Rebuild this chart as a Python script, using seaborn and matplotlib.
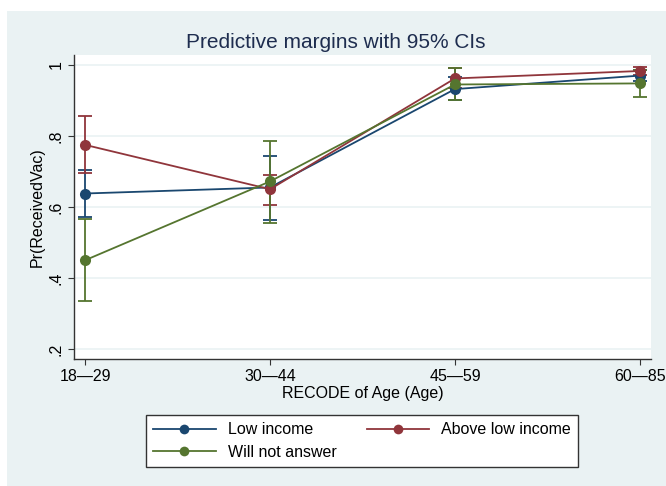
import matplotlib
matplotlib.use('Agg')
import matplotlib.pyplot as plt
from matplotlib.patches import Rectangle
import pandas as pd
import seaborn as sns

# margins
ages = ['18\u201429', '30\u201444', '45\u201459', '60\u201485']
groups = ['Low income', 'Above low income', 'Will not answer']
low_income = [0.638, 0.655, 0.932, 0.970]
low_income_lo = [0.573, 0.562, 0.900, 0.955]
low_income_hi = [0.703, 0.745, 0.965, 0.985]
above_low = [0.775, 0.650, 0.962, 0.983]
above_low_lo = [0.695, 0.607, 0.935, 0.972]
above_low_hi = [0.855, 0.690, 0.990, 0.994]
no_answer = [0.450, 0.672, 0.945, 0.948]
no_answer_lo = [0.335, 0.555, 0.900, 0.910]
no_answer_hi = [0.565, 0.787, 0.990, 0.985]
colors = ['#1a476f', '#90353b', '#55752f']

df = pd.DataFrame({
    'pos': list(range(4)) * 3,
    'margin': low_income + above_low + no_answer,
    'lo': low_income_lo + above_low_lo + no_answer_lo,
    'hi': low_income_hi + above_low_hi + no_answer_hi,
    'group': [g for g in groups for _ in ages],
})

plt.rcParams['font.family'] = ['Liberation Sans', 'DejaVu Sans']
fig = plt.figure(figsize=(6.66, 4.86), dpi=100)
fig.patch.set_facecolor('#eaf2f3')
# white strips on top and left edge
fig.patches.append(Rectangle((0, 1 - 11 / 486), 1, 11 / 486, transform=fig.transFigure,
                             facecolor='white', edgecolor='none', zorder=-10))
fig.patches.append(Rectangle((0, 0), 7 / 666, 1, transform=fig.transFigure,
                             facecolor='white', edgecolor='none', zorder=-10))
ax = fig.add_axes([74 / 666, 1 - 359 / 486, (651 - 74) / 666, (359 - 55) / 486])
ax.set_facecolor('white')

for g, c in zip(groups, colors):
    sub = df[df['group'] == g]
    ax.errorbar(sub['pos'], sub['margin'],
                yerr=[sub['margin'] - sub['lo'], sub['hi'] - sub['margin']],
                fmt='none', ecolor=c, elinewidth=1.3, capsize=5, capthick=1.3, zorder=2)

sns.lineplot(data=df, x='pos', y='margin', hue='group', palette=colors, marker='o',
             markersize=8, markeredgewidth=0, linewidth=1.3, ax=ax, legend=False, zorder=3)

ax.set_xlim(-0.0595, 3.0595)
ax.set_ylim(0.172, 1.028)
ax.set_xticks(range(4))
ax.set_xticklabels(ages, fontsize=11.5)
ax.set_yticks([0.2, 0.4, 0.6, 0.8, 1.0])
ax.set_yticklabels(['.2', '.4', '.6', '.8', '1'], fontsize=11.5, rotation=90, va='center')
ax.grid(axis='y', color='#eaf2f3', linewidth=1.2)
ax.grid(axis='x', visible=False)
ax.set_axisbelow(True)
for s in ['top', 'right']:
    ax.spines[s].set_visible(False)
for s in ['left', 'bottom']:
    ax.spines[s].set_color('#333333')
    ax.spines[s].set_linewidth(1.0)
ax.tick_params(length=4.5, color='#333333', pad=3)
ax.set_xlabel('RECODE of Age (Age)', fontsize=11.5, labelpad=1)
ax.set_ylabel('Pr(ReceivedVac)', fontsize=11.5, labelpad=3)
fig.text(0.504, 1 - 42 / 486, 'Predictive margins with 95% CIs', ha='center', va='center',
         fontsize=15, color='#1e2d4f')

handles = [plt.Line2D([], [], color=c, marker='o', markersize=7, markeredgewidth=0, linewidth=1.3)
           for c in colors]
# column-major fill: put row order Low, Above / Will not answer
order = [0, 2, 1]
leg = fig.legend([handles[i] for i in order], [groups[i] for i in order], loc='center',
                 bbox_to_anchor=(362 / 666, 1 - 441 / 486),
                 ncol=2, fontsize=11.5, frameon=True, fancybox=False, handlelength=3.9,
                 columnspacing=1.9, handletextpad=0.75, borderpad=0.45, labelspacing=0.45,
                 borderaxespad=0)
leg.get_frame().set_edgecolor('#333333')
leg.get_frame().set_linewidth(1.0)
leg.get_frame().set_facecolor('white')
leg.get_frame().set_alpha(1)

fig.savefig('out.png', dpi=100, facecolor=fig.get_facecolor())
